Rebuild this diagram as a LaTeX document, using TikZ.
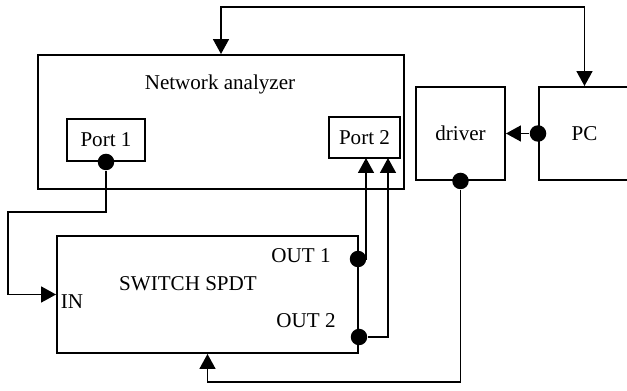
\documentclass[tikz,border=0pt]{standalone}
\usepackage{fontspec}
\setmainfont{Liberation Serif}
\usetikzlibrary{arrows.meta}
\tikzset{every picture/.style={line width=1.1pt}}
\tikzset{box/.style={draw,rectangle,inner sep=0pt}}
\tikzset{dot/.style={circle,fill,inner sep=0pt,minimum size=0.33cm}}
\tikzset{wire/.style={-{Triangle[length=8.5pt,width=9pt]}}}

\begin{document}
\begin{tikzpicture}[x=0.02cm,y=-0.02cm,font=\fontsize{12}{14}\selectfont]
\useasboundingbox (0,0) rectangle (627,391);
% boxes
\node[box,minimum width=7.32cm,minimum height=2.68cm] (na) at (221,122) {};
\node (nalab) at (220,84) {Network analyzer};
\node[box,minimum width=1.56cm,minimum height=0.84cm] (port1) at (106,140) {Port 1};
\node[box,minimum width=1.42cm,minimum height=0.82cm] (port2) at (364.5,137.5) {Port 2};
\node[box,minimum width=1.78cm,minimum height=1.86cm] (drv) at (460.5,133.5) {driver};
\node[box,minimum width=1.82cm,minimum height=1.86cm] (pc) at (584.5,133.5) {PC};
%
\node[box,minimum width=6.02cm,minimum height=2.34cm] (sw) at (207.5,294.5) {};
\node (swlab) at (188,284) {SWITCH SPDT};
\node (in) at (72,302) {IN};
\node (outa) at (301,256) {OUT 1};
\node (outb) at (306,321) {OUT 2};
%
\node[dot] (d1) at (port1.south) {};
\node[dot] (d2) at (358,259) {};
\node[dot] (d3) at (359,337) {};
\node[dot] (d4) at (drv.south) {};
\node[dot] (d5) at (pc.west) {};
%
\coordinate (top) at (400,7);
\coordinate (bend1) at (8,212);
\coordinate (in1) at (366,158);
\coordinate (in2) at (388,158);
\coordinate (bend2) at (330,382);
% connectors
\draw[wire] (top) -| (na.north);
\draw[wire] (top) -| (pc.north);
\draw[wire] (d1) |- (bend1) |- (sw.west);
\draw[wire] (d2) -| (in1);
\draw[wire] (d3) -| (in2);
\draw[wire] (d4) |- (bend2) -| (sw.south);
\draw[wire] (d5) -- (drv.east);
\end{tikzpicture}
\end{document}
